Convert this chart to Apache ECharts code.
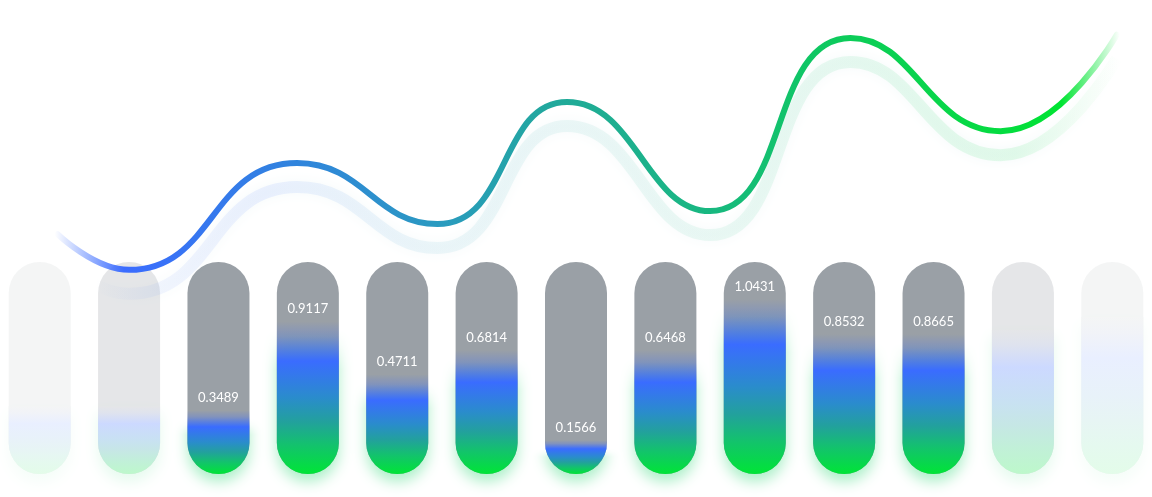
<!DOCTYPE html>
<html>
<head>
<meta charset="utf-8">
<script src="https://cdn.jsdelivr.net/npm/echarts@6/dist/echarts.min.js"></script>
<style>
  html, body { margin: 0; padding: 0; background: #ffffff; }
  #chart { width: 1152px; height: 497px; }
</style>
</head>
<body>
<div id="chart"></div>
<script>
// ---- data ----
const categories = ['1', '2', '3', '4', '5', '6', '7', '8', '9', '10', '11', '12', '13'];
// value labels shown on the bars (blank for the faded edge bars)
const barLabels = ['', '', '0.3489', '0.9117', '0.4711', '0.6814', '0.1566', '0.6468', '1.0431', '0.8532', '0.8665', '', ''];
// fill level of each pill (percent of pill height)
const fillLevels = [32, 32, 30, 72, 47, 58.5, 16, 58.5, 82.5, 66, 66, 68, 74];
// full pill track
const trackLevels = [100, 100, 100, 100, 100, 100, 100, 100, 100, 100, 100, 100, 100];
// opacity of each column (edge columns fade out)
const columnOpacity = [0.11, 0.26, 1, 1, 1, 1, 1, 1, 1, 1, 1, 0.26, 0.11];
// wave line: x in column units, y in line-axis units
const waveX = [0.2, 1.0, 2.88, 4.45, 5.9, 7.5, 9.07, 10.75, 12.05];
const waveY = [0.759, 0.646, 0.984, 0.791, 1.177, 0.832, 1.380, 1.085, 1.39];

const chart = echarts.init(document.getElementById('chart'), null, { renderer: 'canvas' });
const G = echarts.graphic;

// fill gradient stops: [offset, r, g, b, alpha]
const GRAY = [154, 160, 166];
const fillStops = [
  [0, 58, 108, 255, 0],
  [0.1, 58, 108, 255, 0.25],
  [0.26, 58, 108, 255, 1],
  [0.5, 42, 140, 204, 1],
  [0.66, 34, 161, 156, 1],
  [0.82, 18, 196, 106, 1],
  [1, 0, 229, 54, 1]
];
function makeFill(op) {
  return new G.LinearGradient(0, 0, 0, 1, fillStops.map(s => {
    if (op >= 1) return { offset: s[0], color: `rgba(${s[1]},${s[2]},${s[3]},${s[4]})` };
    // colour over the gray track, then the whole column faded over white
    const c = [1, 2, 3].map((k, j) => GRAY[j] * (1 - s[4]) + s[k] * s[4]);
    const w = c.map(v => Math.round(255 * (1 - op) + v * op));
    return { offset: s[0], color: `rgb(${w[0]},${w[1]},${w[2]})` };
  }));
}

const lineGradient = new G.LinearGradient(0, 0, 1, 0, [
  { offset: 0, color: 'rgba(59,108,255,0)' },
  { offset: 0.065, color: 'rgba(59,108,255,1)' },
  { offset: 0.226, color: '#3084dd' },
  { offset: 0.36, color: '#2a9ac0' },
  { offset: 0.48, color: '#20aa98' },
  { offset: 0.616, color: '#18b880' },
  { offset: 0.75, color: '#0ccd58' },
  { offset: 0.89, color: '#05dc40' },
  { offset: 0.945, color: 'rgba(0,228,50,1)' },
  { offset: 1, color: 'rgba(0,228,50,0)' }
]);
const shadowGradient = new G.LinearGradient(0, 0, 1, 0, [
  { offset: 0, color: 'rgba(59,108,255,0)' },
  { offset: 0.04, color: 'rgba(59,108,255,0)' },
  { offset: 0.1, color: 'rgba(59,108,255,0.06)' },
  { offset: 0.2, color: 'rgba(59,108,255,0.09)' },
  { offset: 0.36, color: 'rgba(42,154,192,0.08)' },
  { offset: 0.62, color: 'rgba(24,184,128,0.08)' },
  { offset: 0.9, color: 'rgba(5,220,64,0.1)' },
  { offset: 0.97, color: 'rgba(0,228,50,0.03)' },
  { offset: 1, color: 'rgba(0,228,50,0)' }
]);

const trackData = trackLevels.map((v, i) => ({ value: v, itemStyle: { opacity: columnOpacity[i] } }));
const fillData = fillLevels.map((v, i) => ({
  value: v,
  itemStyle: columnOpacity[i] < 1
    ? { color: makeFill(columnOpacity[i]), shadowColor: `rgba(20,210,100,${0.4 * columnOpacity[i]})` }
    : { color: makeFill(1) },
  label: { show: barLabels[i] !== '' }
}));

const gridBase = { left: -5, right: -5, outerBoundsMode: 'none', containLabel: false };

chart.setOption({
  animation: false,
  backgroundColor: '#ffffff',
  grid: [
    Object.assign({}, gridBase, { top: 262, bottom: 23 }),
    Object.assign({}, gridBase, { top: 0, bottom: 23 }),
    Object.assign({}, gridBase, { top: 24, bottom: -1 })
  ],
  xAxis: [
    { type: 'category', data: categories, gridIndex: 0, show: false },
    { type: 'value', min: -0.5, max: 12.5, gridIndex: 1, show: false },
    { type: 'value', min: -0.5, max: 12.5, gridIndex: 2, show: false }
  ],
  yAxis: [
    { type: 'value', min: 0, max: 100, gridIndex: 0, show: false },
    { type: 'value', min: 0, max: 1.5, gridIndex: 1, show: false },
    { type: 'value', min: 0, max: 1.5, gridIndex: 2, show: false }
  ],
  series: [
    {
      type: 'bar',
      xAxisIndex: 0, yAxisIndex: 0,
      data: trackData,
      barWidth: 62,
      silent: true,
      z: 1,
      itemStyle: { color: '#9aa0a6', borderRadius: 31 }
    },
    {
      type: 'bar',
      xAxisIndex: 0, yAxisIndex: 0,
      data: fillData,
      barWidth: 62,
      barGap: '-100%',
      z: 2,
      itemStyle: {
        borderRadius: [0, 0, 31, 31],
        shadowColor: 'rgba(20,210,100,0.35)',
        shadowBlur: 14,
        shadowOffsetY: 8
      },
      label: {
        show: true,
        position: 'top',
        distance: 6,
        color: '#ffffff',
        fontSize: 13,
        fontFamily: 'Lato',
        formatter: (p) => barLabels[p.dataIndex]
      }
    },
    {
      type: 'line',
      xAxisIndex: 2, yAxisIndex: 2,
      data: waveX.map((x, i) => [x, waveY[i]]),
      smooth: true,
      symbol: 'none',
      clip: false,
      z: 3,
      lineStyle: {
        width: 12,
        color: shadowGradient,
        shadowColor: 'rgba(80,170,180,0.6)',
        shadowBlur: 12
      }
    },
    {
      type: 'line',
      xAxisIndex: 1, yAxisIndex: 1,
      data: waveX.map((x, i) => [x, waveY[i]]),
      smooth: true,
      symbol: 'none',
      clip: false,
      z: 4,
      lineStyle: { width: 6, color: lineGradient, cap: 'round' }
    }
  ]
});
</script>
</body>
</html>
